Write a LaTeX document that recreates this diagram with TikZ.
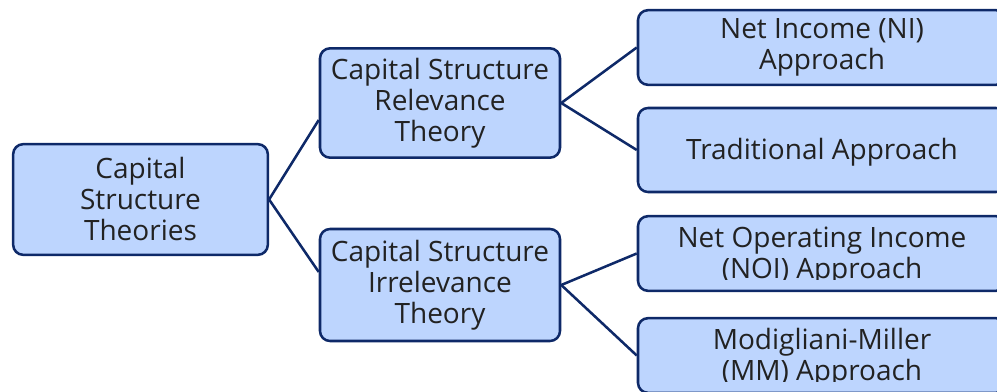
\documentclass[tikz,border=0pt]{standalone}
\usepackage{fontspec}
\setmainfont{Open Sans}
\definecolor{fond}{RGB}{189,213,254}
\definecolor{trait}{RGB}{14,41,104}
\definecolor{encre}{RGB}{34,34,34}
\begin{document}
\begin{tikzpicture}[x=0.75pt, y=-0.75pt]
	\tikzset{texte/.style={align=center, text=encre, inner sep=0pt, font=\fontsize{21}{23.25}\selectfont, execute at begin node={\rule{0pt}{20pt}}}, boite/.style={texte, rectangle, rounded corners=7.5pt, draw=trait, fill=fond, line width=1.9pt}, lien/.style={draw=trait, line width=1.9pt}};
	\clip (0,0) rectangle (997,392);

	\node[boite, minimum width=191pt, minimum height=83pt] (racine) at (140.5,199.5) {Capital\\Structure\\Theories};
	\node[boite, minimum width=180pt, minimum height=82pt] (relevance) at (440,103) {Capital Structure\\Relevance\\Theory};
	\node[boite, minimum width=180pt, minimum height=84pt] (irrelevance) at (440,285) {Capital Structure\\Irrelevance\\Theory};
	\node[boite, minimum width=276pt, minimum height=56pt] (ni) at (822,47.5) {Net Income (NI)\\Approach};
	\node[boite, minimum width=276pt, minimum height=63pt] (trad) at (822,150) {Traditional Approach};
	\node[boite, minimum width=276pt, minimum height=56pt] (noi) at (822,253.5) {};
	\node[boite, minimum width=276pt, minimum height=56pt] (mm) at (822,355.5) {};

	% texte coupe en bas
	\begin{scope}
		\clip (noi.north west) rectangle ([yshift=9.75pt]noi.south east);
		\node[texte] at ([yshift=-2pt]noi.center) {Net Operating Income\\(NOI) Approach};
	\end{scope}
	\begin{scope}
		\clip (mm.north west) rectangle ([yshift=9.75pt]mm.south east);
		\node[texte] at ([yshift=-2pt]mm.center) {Modigliani-Miller\\(MM) Approach};
	\end{scope}

	\draw[lien] (racine.east) -- ([yshift=-12.75pt]relevance.west);
	\draw[lien] (racine.east) -- ([yshift=9.75pt]irrelevance.west);
	\draw[lien] (relevance.east) -- (ni.west);
	\draw[lien] (relevance.east) -- (trad.west);
	\draw[lien] (irrelevance.east) -- (noi.west);
	\draw[lien] (irrelevance.east) -- (mm.west);
\end{tikzpicture}
\end{document}
